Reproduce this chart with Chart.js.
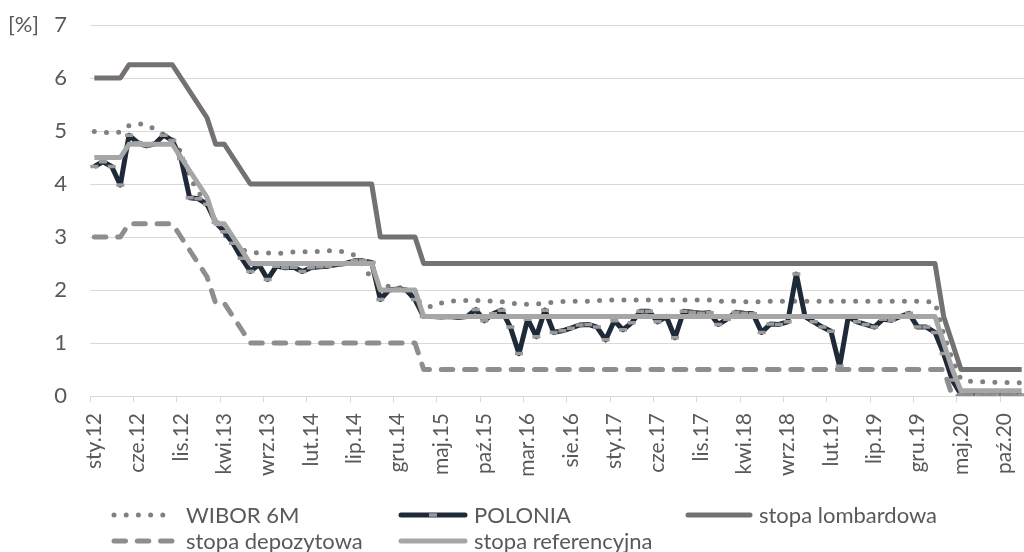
<!DOCTYPE html>
<html>
<head>
<meta charset="utf-8">
<script src="https://cdn.jsdelivr.net/npm/chart.js@4.4.1/dist/chart.umd.min.js"></script>
<style>
  html, body { margin: 0; padding: 0; background: #fff; overflow: hidden; }
  #wrap { width: 1040px; height: 552px; }
</style>
</head>
<body>
<div id="wrap"><canvas id="chart"></canvas></div>
<script>
// months Jan 2012 - Dec 2020
const categories = [
  'sty.12','lut.12','mar.12','kwi.12','maj.12','cze.12','lip.12','sie.12','wrz.12','paź.12','lis.12','gru.12',
  'sty.13','lut.13','mar.13','kwi.13','maj.13','cze.13','lip.13','sie.13','wrz.13','paź.13','lis.13','gru.13',
  'sty.14','lut.14','mar.14','kwi.14','maj.14','cze.14','lip.14','sie.14','wrz.14','paź.14','lis.14','gru.14',
  'sty.15','lut.15','mar.15','kwi.15','maj.15','cze.15','lip.15','sie.15','wrz.15','paź.15','lis.15','gru.15',
  'sty.16','lut.16','mar.16','kwi.16','maj.16','cze.16','lip.16','sie.16','wrz.16','paź.16','lis.16','gru.16',
  'sty.17','lut.17','mar.17','kwi.17','maj.17','cze.17','lip.17','sie.17','wrz.17','paź.17','lis.17','gru.17',
  'sty.18','lut.18','mar.18','kwi.18','maj.18','cze.18','lip.18','sie.18','wrz.18','paź.18','lis.18','gru.18',
  'sty.19','lut.19','mar.19','kwi.19','maj.19','cze.19','lip.19','sie.19','wrz.19','paź.19','lis.19','gru.19',
  'sty.20','lut.20','mar.20','kwi.20','maj.20','cze.20','lip.20','sie.20','wrz.20','paź.20','lis.20','gru.20'
];

const wibor6m = [
  4.99, 4.97, 4.97, 4.98, 5.10, 5.14, 5.12, 5.03, 4.93, 4.85, 4.60, 4.13,
  3.85, 3.60, 3.30, 3.05, 2.87, 2.76, 2.71, 2.70, 2.70, 2.69, 2.70, 2.72,
  2.72, 2.72, 2.73, 2.74, 2.74, 2.71, 2.66, 2.45, 2.22, 2.10, 2.07, 2.05,
  2.02, 1.84, 1.72, 1.68, 1.75, 1.79, 1.80, 1.80, 1.80, 1.80, 1.79, 1.78,
  1.76, 1.73, 1.73, 1.74, 1.75, 1.77, 1.78, 1.79, 1.79, 1.79, 1.80, 1.81,
  1.81, 1.81, 1.81, 1.81, 1.81, 1.81, 1.81, 1.81, 1.81, 1.81, 1.81, 1.81,
  1.79, 1.79, 1.79, 1.78, 1.78, 1.78, 1.79, 1.79, 1.79, 1.79, 1.79, 1.79,
  1.79, 1.79, 1.79, 1.79, 1.79, 1.79, 1.79, 1.79, 1.79, 1.79, 1.79, 1.79,
  1.78, 1.77, 1.17, 0.69, 0.31, 0.28, 0.27, 0.27, 0.26, 0.26, 0.25, 0.25
];

const polonia = [
  4.33, 4.42, 4.33, 3.98, 4.92, 4.78, 4.72, 4.76, 4.92, 4.82, 4.48, 3.74,
  3.72, 3.62, 3.28, 3.10, 2.88, 2.60, 2.35, 2.48, 2.20, 2.45, 2.42, 2.43,
  2.35, 2.42, 2.44, 2.45, 2.48, 2.50, 2.55, 2.55, 2.52, 1.82, 2.00, 2.02,
  2.00, 1.82, 1.50, 1.50, 1.49, 1.50, 1.48, 1.50, 1.63, 1.42, 1.55, 1.62,
  1.30, 0.80, 1.45, 1.12, 1.62, 1.20, 1.23, 1.28, 1.34, 1.35, 1.30, 1.06,
  1.42, 1.25, 1.38, 1.60, 1.60, 1.40, 1.50, 1.10, 1.60, 1.58, 1.56, 1.57,
  1.35, 1.45, 1.58, 1.56, 1.55, 1.20, 1.36, 1.35, 1.40, 2.30, 1.50, 1.40,
  1.30, 1.22, 0.56, 1.50, 1.40, 1.35, 1.30, 1.45, 1.43, 1.50, 1.56, 1.30,
  1.30, 1.20, 0.80, 0.30, 0.03, 0.02, 0.02, 0.02, 0.02, 0.02, 0.02, 0.02
];

const stopaLombardowa = [
  6.00, 6.00, 6.00, 6.00, 6.25, 6.25, 6.25, 6.25, 6.25, 6.25, 6.00, 5.75,
  5.50, 5.25, 4.75, 4.75, 4.50, 4.25, 4.00, 4.00, 4.00, 4.00, 4.00, 4.00,
  4.00, 4.00, 4.00, 4.00, 4.00, 4.00, 4.00, 4.00, 4.00, 3.00, 3.00, 3.00,
  3.00, 3.00, 2.50, 2.50, 2.50, 2.50, 2.50, 2.50, 2.50, 2.50, 2.50, 2.50,
  2.50, 2.50, 2.50, 2.50, 2.50, 2.50, 2.50, 2.50, 2.50, 2.50, 2.50, 2.50,
  2.50, 2.50, 2.50, 2.50, 2.50, 2.50, 2.50, 2.50, 2.50, 2.50, 2.50, 2.50,
  2.50, 2.50, 2.50, 2.50, 2.50, 2.50, 2.50, 2.50, 2.50, 2.50, 2.50, 2.50,
  2.50, 2.50, 2.50, 2.50, 2.50, 2.50, 2.50, 2.50, 2.50, 2.50, 2.50, 2.50,
  2.50, 2.50, 1.50, 1.00, 0.50, 0.50, 0.50, 0.50, 0.50, 0.50, 0.50, 0.50
];

const stopaDepozytowa = [
  3.00, 3.00, 3.00, 3.00, 3.25, 3.25, 3.25, 3.25, 3.25, 3.25, 3.00, 2.75,
  2.50, 2.25, 1.75, 1.75, 1.50, 1.25, 1.00, 1.00, 1.00, 1.00, 1.00, 1.00,
  1.00, 1.00, 1.00, 1.00, 1.00, 1.00, 1.00, 1.00, 1.00, 1.00, 1.00, 1.00,
  1.00, 1.00, 0.50, 0.50, 0.50, 0.50, 0.50, 0.50, 0.50, 0.50, 0.50, 0.50,
  0.50, 0.50, 0.50, 0.50, 0.50, 0.50, 0.50, 0.50, 0.50, 0.50, 0.50, 0.50,
  0.50, 0.50, 0.50, 0.50, 0.50, 0.50, 0.50, 0.50, 0.50, 0.50, 0.50, 0.50,
  0.50, 0.50, 0.50, 0.50, 0.50, 0.50, 0.50, 0.50, 0.50, 0.50, 0.50, 0.50,
  0.50, 0.50, 0.50, 0.50, 0.50, 0.50, 0.50, 0.50, 0.50, 0.50, 0.50, 0.50,
  0.50, 0.50, 0.50, 0.00, 0.00, 0.00, 0.00, 0.00, 0.00, 0.00, 0.00, 0.00
];

const stopaReferencyjna = [
  4.50, 4.50, 4.50, 4.50, 4.75, 4.75, 4.75, 4.75, 4.75, 4.75, 4.50, 4.25,
  4.00, 3.75, 3.25, 3.25, 3.00, 2.75, 2.50, 2.50, 2.50, 2.50, 2.50, 2.50,
  2.50, 2.50, 2.50, 2.50, 2.50, 2.50, 2.50, 2.50, 2.50, 2.00, 2.00, 2.00,
  2.00, 2.00, 1.50, 1.50, 1.50, 1.50, 1.50, 1.50, 1.50, 1.50, 1.50, 1.50,
  1.50, 1.50, 1.50, 1.50, 1.50, 1.50, 1.50, 1.50, 1.50, 1.50, 1.50, 1.50,
  1.50, 1.50, 1.50, 1.50, 1.50, 1.50, 1.50, 1.50, 1.50, 1.50, 1.50, 1.50,
  1.50, 1.50, 1.50, 1.50, 1.50, 1.50, 1.50, 1.50, 1.50, 1.50, 1.50, 1.50,
  1.50, 1.50, 1.50, 1.50, 1.50, 1.50, 1.50, 1.50, 1.50, 1.50, 1.50, 1.50,
  1.50, 1.50, 1.00, 0.50, 0.10, 0.10, 0.10, 0.10, 0.10, 0.10, 0.10, 0.10
];

const yTicks = [0, 1, 2, 3, 4, 5, 6, 7];
const labelEvery = 5;
const unitLabel = '[%]';

const FONT = 'Lato, "Open Sans", sans-serif';
const TEXT = '#595959';
const GRID = '#d9d9d9';

// legend slots: [sample start, sample end, text x, row y]
const legendSlots = [
  [111, 175, 186, 515],
  [398, 468, 474, 515],
  [685, 753, 759, 515],
  [111, 175, 186, 541],
  [398, 468, 474, 541]
];

const datasets = [
  {
    label: 'WIBOR 6M', data: wibor6m,
    borderColor: '#808080', borderWidth: 5,
    borderDash: [0, 12.2], borderCapStyle: 'round',
    pointRadius: 0, order: 5
  },
  {
    label: 'POLONIA', data: polonia,
    borderColor: '#1f2a38', borderWidth: 5,
    pointStyle: 'line', pointRadius: 4, pointBorderWidth: 3.5,
    pointBorderColor: '#9a9a9a', pointBackgroundColor: '#9a9a9a',
    order: 4
  },
  {
    label: 'stopa lombardowa', data: stopaLombardowa,
    borderColor: '#767171', borderWidth: 5,
    pointRadius: 0, order: 3
  },
  {
    label: 'stopa depozytowa', data: stopaDepozytowa,
    borderColor: '#8e8e8e', borderWidth: 5,
    borderDash: [11.5, 11.8], borderCapStyle: 'round',
    pointRadius: 0, order: 2
  },
  {
    label: 'stopa referencyjna', data: stopaReferencyjna,
    borderColor: '#a6a6a6', borderWidth: 5,
    pointRadius: 0, order: 1
  }
];

// legend + unit label drawn like the original
const excelLegend = {
  id: 'excelLegend',
  afterDraw(chart) {
    const ctx = chart.ctx;
    ctx.save();
    ctx.font = '22px ' + FONT;
    ctx.fillStyle = TEXT;
    ctx.textBaseline = 'middle';
    ctx.textAlign = 'left';
    ctx.fillText(unitLabel, 8, chart.scales.y.getPixelForValue(7));

    ctx.font = '22px ' + FONT;
    chart.data.datasets.forEach(function(ds, i) {
      const s = legendSlots[i];
      ctx.save();
      ctx.strokeStyle = ds.borderColor;
      ctx.lineWidth = ds.borderWidth;
      ctx.lineCap = 'round';
      ctx.setLineDash(ds.borderDash || []);
      ctx.beginPath();
      ctx.moveTo(s[0] + 3, s[3]);
      ctx.lineTo(s[1] - 3, s[3]);
      ctx.stroke();
      if (ds.pointStyle === 'line') {
        ctx.setLineDash([]);
        ctx.lineCap = 'butt';
        ctx.strokeStyle = ds.pointBorderColor;
        ctx.lineWidth = ds.pointBorderWidth;
        const mid = (s[0] + s[1]) / 2;
        ctx.beginPath();
        ctx.moveTo(mid - ds.pointRadius, s[3]);
        ctx.lineTo(mid + ds.pointRadius, s[3]);
        ctx.stroke();
      }
      ctx.restore();
      ctx.fillStyle = TEXT;
      ctx.fillText(ds.label, s[2], s[3] + 1);
    });
    ctx.restore();
  }
};

new Chart(document.getElementById('chart'), {
  type: 'line',
  data: { labels: categories, datasets: datasets },
  options: {
    responsive: true,
    maintainAspectRatio: false,
    devicePixelRatio: 1,
    animation: false,
    layout: { padding: { top: 25, right: 14, bottom: 56, left: 0 } },
    elements: { line: { tension: 0, borderJoinStyle: 'round' } },
    plugins: { legend: { display: false }, tooltip: { enabled: false } },
    scales: {
      x: {
        offset: true,
        grid: {
          offset: true,
          drawOnChartArea: false,
          drawTicks: true,
          tickLength: 6,
          color: function(c) { return c.index % labelEvery === 0 ? GRID : 'rgba(0,0,0,0)'; }
        },
        border: { display: false },
        ticks: {
          autoSkip: false,
          minRotation: 90,
          maxRotation: 90,
          padding: 11,
          color: TEXT,
          font: { family: FONT, size: 21 },
          callback: function(v, i) { return i % labelEvery === 0 ? categories[i] : ''; }
        },
        afterFit: function(s) {
          s.height = 100;
          s.paddingLeft = 0;
          s.paddingRight = 0;
        }
      },
      y: {
        min: yTicks[0],
        max: yTicks[yTicks.length - 1],
        afterBuildTicks: function(s) { s.ticks = yTicks.map(function(v) { return { value: v }; }); },
        grid: { color: GRID, lineWidth: 1, drawTicks: false },
        border: { display: false },
        ticks: {
          padding: 23,
          color: TEXT,
          font: { family: FONT, size: 22 }
        },
        afterFit: function(s) {
          s.width = 90;
          s.paddingTop = 0;
          s.paddingBottom = 0;
        }
      }
    }
  },
  plugins: [excelLegend]
});
</script>
</body>
</html>
